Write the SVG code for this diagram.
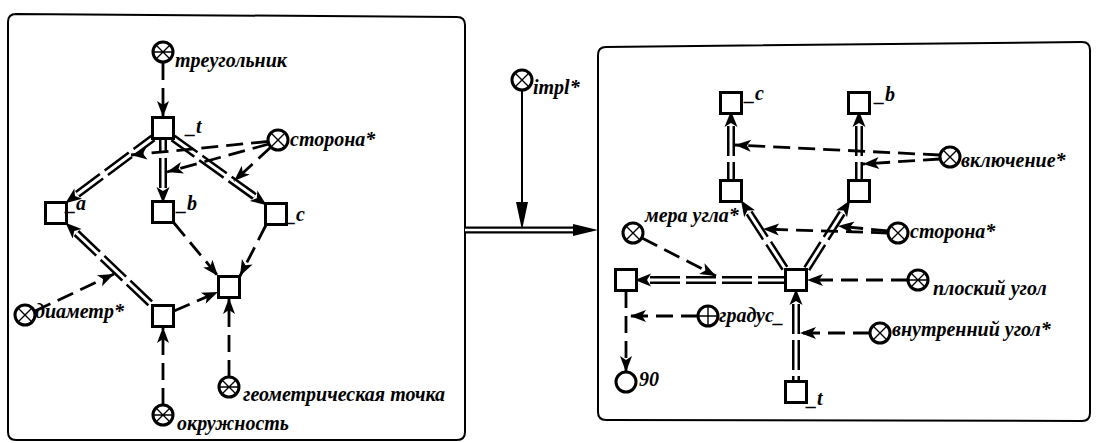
<svg xmlns="http://www.w3.org/2000/svg" xmlns:xlink="http://www.w3.org/1999/xlink" width="1102" height="443" viewBox="0 0 1102 443">
<style>
.panel{fill:none;stroke:#000;stroke-width:2}
.sq{fill:#fff;stroke:#000;stroke-width:3}
.ci{fill:#fff;stroke:#000;stroke-width:3}
.in{fill:none;stroke:#000;stroke-width:1.4}
.lbl{font-family:"Liberation Serif","Times New Roman",serif;font-style:italic;font-weight:bold;font-size:20px;fill:#000}
.da{fill:none;stroke:#000;stroke-width:2.8;stroke-dasharray:17 8}
.so{fill:none;stroke:#000;stroke-width:2}
.dbo{fill:none;stroke:#000;stroke-width:8;stroke-dasharray:30 6}
.dbi{fill:none;stroke:#fff;stroke-width:3}
</style>
<defs>
<marker id="arr" markerUnits="userSpaceOnUse" markerWidth="18" markerHeight="14" viewBox="-17 -7 18 14" refX="0" refY="0" orient="auto" overflow="visible">
<path d="M0,0 L-16,-6 L-12,0 L-16,6 z" fill="#000"/>
</marker>
<marker id="arrD" markerUnits="userSpaceOnUse" markerWidth="18" markerHeight="16" viewBox="-2 -8 18 16" refX="0" refY="0" orient="auto-start-reverse" overflow="visible">
<path d="M15,0 L-1,-6.5 L3,0 L-1,6.5 z" fill="#000"/>
</marker>
<g id="cls"><circle class="ci" r="10"/><path class="in" d="M-7,-7 L7,7 M-7,7 L7,-7 M-10,0 L10,0"/></g>
<g id="rel"><circle class="ci" r="10"/><path class="in" d="M-7,-7 L7,7 M-7,7 L7,-7"/></g>
<g id="role"><circle class="ci" r="10"/><path class="in" d="M-10,0 L10,0 M0,-10 L0,10"/></g>
<g id="gen"><circle class="ci" r="10"/></g>
<rect id="box" class="sq" x="-10.5" y="-10.5" width="21" height="21"/>
</defs>
<rect width="1102" height="443" fill="#fff"/>

<g id="panels">
<path class="panel" d="M16,14 L457,17 Q465,17 465,25 L465,432 Q465,440 457,440 L16,440 Q8,440 8,432 L8,22 Q8,14 16,14 Z"/>
<path class="panel" d="M606,47 L1082,42 Q1090,42 1090,50 L1090,413 Q1090,421 1082,421 L606,420 Q598,420 598,412 L598,55 Q598,47 606,47 Z"/>
</g>

<g id="connectors">
<path class="dbo" d="M77.4,194.2 L153,138" marker-start="url(#arrD)"/><path class="dbi" d="M77.4,194.2 L153,138"/>
<path class="dbo" d="M163,188 L163,139" marker-start="url(#arrD)"/><path class="dbi" d="M163,188 L163,139"/>
<path class="dbo" d="M254.4,196.4 L173,138" marker-start="url(#arrD)"/><path class="dbi" d="M254.4,196.4 L173,138"/>
<path class="dbo" d="M76.4,233 L153,306" marker-start="url(#arrD)"/><path class="dbi" d="M76.4,233 L153,306"/>
<path class="da" d="M163,63 L163,117" marker-end="url(#arr)"/>
<path class="da" d="M268,141.5 L131,155" marker-end="url(#arr)"/>
<path class="da" d="M269,144 L167,172" marker-end="url(#arr)"/>
<path class="da" d="M271,147 L234,181" marker-end="url(#arr)"/>
<path class="da" d="M35,311 L114,274" marker-end="url(#arr)"/>
<path class="da" d="M174,223 L218,276" marker-end="url(#arr)"/>
<path class="da" d="M266,225 L240,276" marker-end="url(#arr)"/>
<path class="da" d="M174,311 L218,292" marker-end="url(#arr)"/>
<path class="da" d="M163,405 L163,327" marker-end="url(#arr)"/>
<path class="da" d="M229,377 L229,298" marker-end="url(#arr)"/>
<path class="so" d="M522,91 L522,205"/>
<path d="M516,202 L522,230 L528,202 Z" fill="#000"/>
<path d="M465,230 L575,230" stroke="#000" stroke-width="7" fill="none"/>
<path d="M465,230 L575,230" stroke="#fff" stroke-width="2.6" fill="none"/>
<path d="M573,224 L598,230 L573,236 Z" fill="#000"/>
<path class="dbo" d="M731,126 L731,180" marker-start="url(#arrD)"/><path class="dbi" d="M731,126 L731,180"/>
<path class="dbo" d="M859,126 L859,180" marker-start="url(#arrD)"/><path class="dbi" d="M859,126 L859,180"/>
<path class="dbo" d="M749.1,212.9 L786,270" marker-start="url(#arrD)"/><path class="dbi" d="M749.1,212.9 L786,270"/>
<path class="dbo" d="M842.1,213 L806,270" marker-start="url(#arrD)"/><path class="dbi" d="M842.1,213 L806,270"/>
<path class="dbo" d="M650,280 L785,280" marker-start="url(#arrD)"/><path class="dbi" d="M650,280 L785,280"/>
<path class="dbo" d="M796,304 L796,381" marker-start="url(#arrD)"/><path class="dbi" d="M796,304 L796,381"/>
<path class="da" d="M940,155 L735,145" marker-end="url(#arr)"/>
<path class="da" d="M940,159 L863,164" marker-end="url(#arr)"/>
<path class="da" d="M888,233 L763,229" marker-end="url(#arr)"/>
<path class="da" d="M888,231 L838,226" marker-end="url(#arr)"/>
<path class="da" d="M642,238 L716,276" marker-end="url(#arr)"/>
<path class="da" d="M908,280 L807,280" marker-end="url(#arr)"/>
<path class="da" d="M870,333 L800,333" marker-end="url(#arr)"/>
<path class="da" d="M626,291 L626,372" marker-end="url(#arr)"/>
<path class="da" d="M698,316 L630,316" marker-end="url(#arr)"/>
</g>

<g id="n-treugolnik"><use href="#cls" x="163" y="52"/><text class="lbl" x="175" y="67">треугольник</text></g>
<g id="n-t-left"><use href="#box" x="163" y="128"/><text class="lbl" x="186" y="133">_t</text></g>
<g id="n-storona-left"><use href="#rel" x="278" y="140"/><text class="lbl" x="290" y="146">сторона*</text></g>
<g id="n-a"><use href="#box" x="56" y="213"/><text class="lbl" x="66" y="210">_a</text></g>
<g id="n-b-left"><use href="#box" x="163" y="212"/><text class="lbl" x="177" y="210">_b</text></g>
<g id="n-c-left"><use href="#box" x="276" y="214"/><text class="lbl" x="286" y="221">_c</text></g>
<g id="n-center-left"><use href="#box" x="229" y="287"/></g>
<g id="n-lower-left"><use href="#box" x="163" y="316"/></g>
<g id="n-diametr"><use href="#rel" x="25" y="315"/><text class="lbl" x="35" y="318">диаметр*</text></g>
<g id="n-okruzhnost"><use href="#cls" x="163" y="415"/><text class="lbl" x="177" y="430">окружность</text></g>
<g id="n-geomtochka"><use href="#cls" x="229" y="387"/><text class="lbl" x="243" y="401">геометрическая точка</text></g>

<g id="n-impl"><use href="#rel" x="522" y="80"/><text class="lbl" x="533" y="94">impl*</text></g>

<g id="n-c-top"><use href="#box" x="731" y="103"/><text class="lbl" x="745" y="100">_c</text></g>
<g id="n-b-top"><use href="#box" x="859" y="103"/><text class="lbl" x="875" y="101">_b</text></g>
<g id="n-c-mid"><use href="#box" x="731" y="191"/></g>
<g id="n-b-mid"><use href="#box" x="859" y="191"/></g>
<g id="n-vkluchenie"><use href="#rel" x="950" y="157"/><text class="lbl" x="961" y="167">включение*</text></g>
<g id="n-mera"><use href="#rel" x="633" y="233"/><text class="lbl" x="645" y="222">мера угла*</text></g>
<g id="n-storona-right"><use href="#rel" x="898" y="233"/><text class="lbl" x="910" y="238">сторона*</text></g>
<g id="n-center-right"><use href="#box" x="796" y="280"/></g>
<g id="n-left-right"><use href="#box" x="626" y="280"/></g>
<g id="n-ploskiy"><use href="#cls" x="918" y="280"/><text class="lbl" x="933" y="295">плоский угол</text></g>
<g id="n-gradus"><use href="#role" x="708" y="316"/><text class="lbl" x="719" y="322">градус_</text></g>
<g id="n-vnutr"><use href="#rel" x="880" y="333"/><text class="lbl" x="892" y="336">внутренний угол*</text></g>
<g id="n-90"><use href="#gen" x="626" y="382"/><text class="lbl" x="639" y="386">90</text></g>
<g id="n-t-right"><use href="#box" x="796" y="392"/><text class="lbl" x="807" y="405">_t</text></g>
</svg>
